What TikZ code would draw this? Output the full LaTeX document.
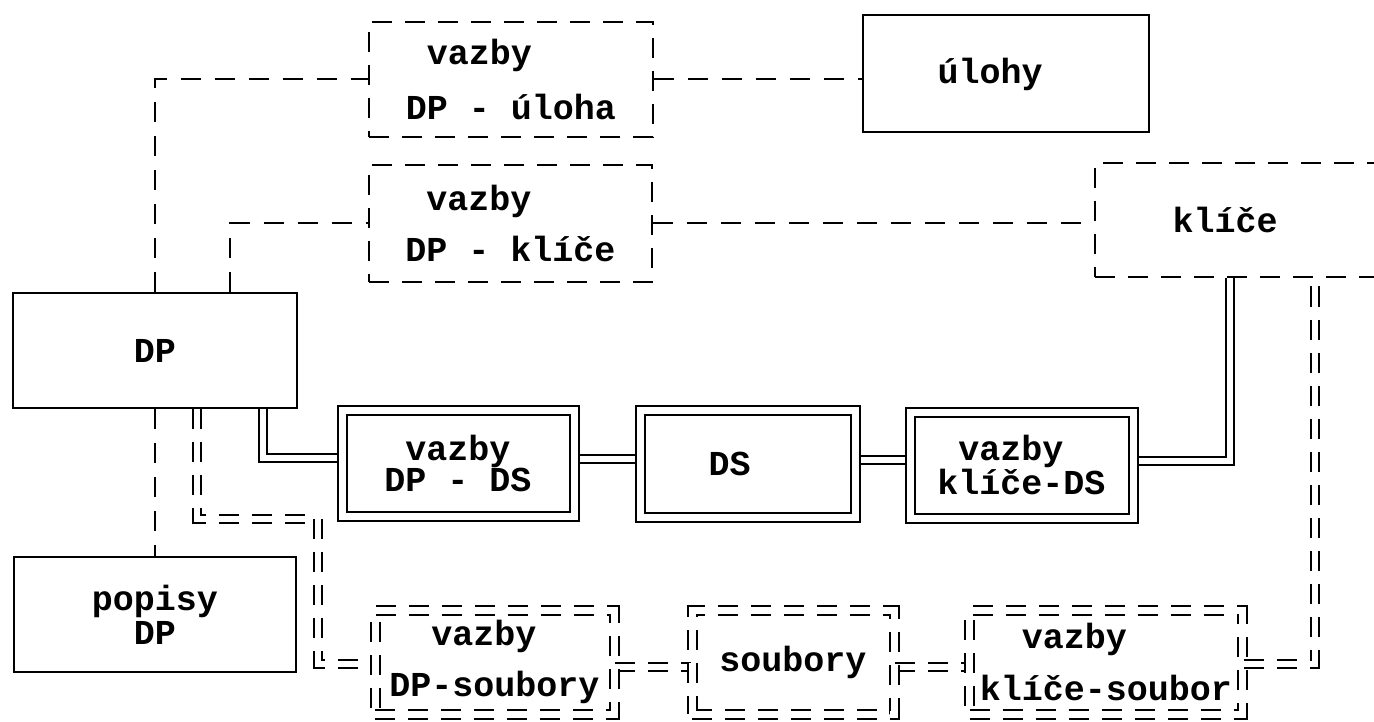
\documentclass[tikz,border=0pt]{standalone}
\usepackage{fontspec}
\newfontfamily\twfont{Liberation Mono}
\usetikzlibrary{backgrounds}
\begin{document}
\begin{tikzpicture}[x=1pt,y=-1pt,
  box/.style={draw, line width=2pt, fill=white, inner sep=0pt,
    font=\twfont\bfseries\fontsize{35pt}{31pt}\selectfont, align=center},
  dashbox/.style={box, dash pattern=on 20pt off 13pt},
  dblbox/.style={box, double, double distance=7pt},
  ddbox/.style={dblbox, dash pattern=on 20pt off 13pt},
  con/.style={line width=2pt},
  dcon/.style={con, dash pattern=on 20pt off 14pt},
  dblcon/.style={con, double, double distance=6pt},
  ddcon/.style={dblcon, dash pattern=on 20pt off 13pt}]
\useasboundingbox (0,0) rectangle (1374,722);
\clip (0,0) rectangle (1374,722);

\node[dashbox, minimum width=284pt, minimum height=115pt, align=left] (dpu) at (511,79.5) {\phantom{D}vazby\\[21pt]DP - úloha};
\node[box, minimum width=286pt, minimum height=117pt] (ul) at (1006,74) {úlohy\hspace*{32pt}};
\node[dashbox, minimum width=283pt, minimum height=117pt, align=left] (dpk) at (510.5,223.5) {\phantom{D}vazby\\[17pt]DP - klíče};
\node[dashbox, minimum width=320pt, minimum height=114pt, anchor=west] (kl) at (1094,220) {klíče\hspace*{60pt}};
\node[box, minimum width=284pt, minimum height=115pt] (dp) at (155,350.5) {DP};
\node[box, minimum width=282pt, minimum height=115pt] (pop) at (155,614.5) {popisy\\[3pt]DP};
\node[dblbox, minimum width=232pt, minimum height=106pt] (dpds) at (458,463) {vazby\\DP - DS};
\node[dblbox, minimum width=215pt, minimum height=107pt] (ds) at (747.5,463.5) {DS\hspace*{36pt}};
\node[dblbox, minimum width=223pt, minimum height=106pt, align=left] (kds) at (1021.5,465) {\phantom{k}vazby\\klíče-DS};
\node[ddbox, minimum width=239pt, minimum height=104pt, align=left] (dpso) at (494.5,662) {\phantom{DP}vazby\\[18pt]DP-soubory};
\node[ddbox, minimum width=202pt, minimum height=104pt] (so) at (793,662) {soubory};
\node[ddbox, minimum width=273pt, minimum height=104pt, align=left] (kso) at (1106,662) {\phantom{kl}vazby\\[18pt]klíče-soubor};

\begin{pgfonlayer}{background}
\draw[dcon] (dp.north) |- (dpu.west);
\draw[dcon] ([xshift=75pt]dp.north) |- (dpk.west);
\draw[dcon] (dpu.east) -- (dpu.east -| ul.west);
\draw[dcon] (dpk.east) -- (dpk.east -| kl.west);
\draw[dcon] (dp.south) -- (pop.north);
\draw[dblcon] ([xshift=107.5pt]dp.south) |- ([yshift=5pt]dpds.west);
\draw[dblcon] ([yshift=4pt]dpds.east) -- ([yshift=4pt]dpds.east -| ds.west);
\draw[dblcon] ([yshift=4pt]ds.east) -- ([yshift=4pt]ds.east -| kds.west);
\draw[dblcon] ([yshift=4pt]kds.east) -| ([xshift=-25pt]kl.south);
\draw[ddcon] ([xshift=42pt]dp.south) -- ++(0,110) -- ++(121,0) |- ([yshift=-2pt]dpso.west);
\draw[ddcon] ([yshift=-5pt]dpso.east) -- ([yshift=-5pt]dpso.east -| so.west);
\draw[ddcon] ([yshift=-5pt]so.east) -- ([yshift=-5pt]so.east -| kso.west);
\draw[ddcon] ([yshift=-2pt]kso.east) -| ([xshift=60pt]kl.south);
\end{pgfonlayer}
\end{tikzpicture}
\end{document}
